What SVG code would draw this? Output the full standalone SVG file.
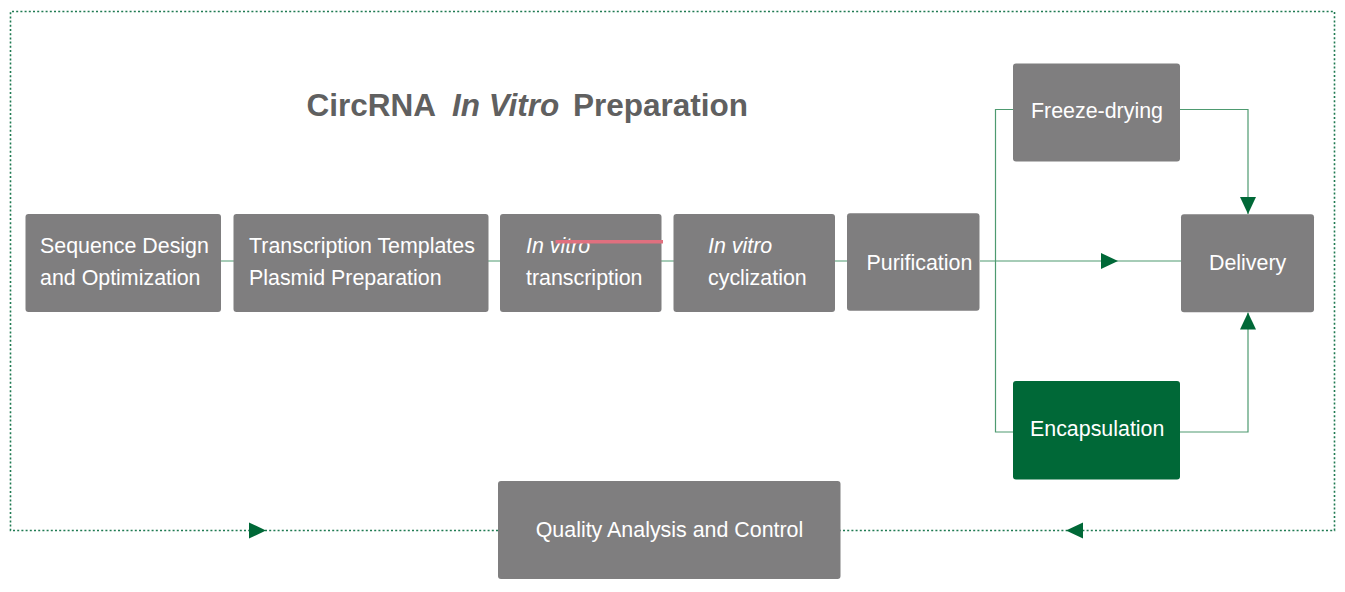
<svg xmlns="http://www.w3.org/2000/svg" width="1345" height="592" viewBox="0 0 1345 592">
<style>
.box{fill:#7f7e7f}
.green{fill:#006837}
.t{font-family:"Liberation Sans",Arial,sans-serif;font-size:21.4px;fill:#ffffff}
.it{font-style:italic}
.c{text-anchor:middle}
.conn{fill:none;stroke:#4e9a70;stroke-width:1.2}
.dot{fill:none;stroke:#1f7a52;stroke-width:1.6;stroke-dasharray:2 2.2}
.title{font-family:"Liberation Sans",Arial,sans-serif;font-size:31.5px;fill:#606060;font-weight:bold}
</style>
<defs>
<marker id="arr" viewBox="0 0 17 16" refX="17" refY="8" markerWidth="17" markerHeight="16" markerUnits="userSpaceOnUse" orient="auto">
<path d="M0,0 L17,8 L0,16 z" fill="#006837"/>
</marker>
</defs>
<rect width="1345" height="592" fill="#ffffff"/>
<g id="connectors">
<path class="dot" d="M498,530.5 L10.5,530.5 L10.5,11.5 L1334.5,11.5 L1334.5,530.5 L840,530.5"/>
<path d="M249,522.5 L266,530.5 L249,538.5 z" fill="#006837"/>
<path d="M1083,522.5 L1066,530.5 L1083,538.5 z" fill="#006837"/>
<line class="conn" x1="221" y1="261" x2="848" y2="261"/>
<line class="conn" x1="980" y1="261" x2="1118" y2="261" marker-end="url(#arr)"/>
<line class="conn" x1="1118" y1="261" x2="1181" y2="261"/>
<path class="conn" d="M1013,109.5 L995.5,109.5 L995.5,432 L1013,432"/>
<path class="conn" d="M1180,109.5 L1248,109.5 L1248,214" marker-end="url(#arr)"/>
<path class="conn" d="M1180,432 L1248,432 L1248,312.5" marker-end="url(#arr)"/>
</g>
<g id="title">
<text class="title" y="116"><tspan x="306.5">CircRNA</tspan><tspan x="452" font-style="italic">In Vitro</tspan><tspan x="573">Preparation</tspan></text>
</g>
<g id="node-sequence">
<rect class="box" x="25.5" y="214" width="195.5" height="98" rx="3"/>
<text class="t" x="40" y="253">Sequence Design</text>
<text class="t" x="40" y="285">and Optimization</text>
</g>
<g id="node-templates">
<rect class="box" x="233.5" y="214" width="255" height="98" rx="3"/>
<text class="t" x="249" y="253">Transcription Templates</text>
<text class="t" x="249" y="285">Plasmid Preparation</text>
</g>
<g id="node-ivt">
<rect class="box" x="500" y="214" width="161.5" height="98" rx="3"/>
<text class="t it" x="526" y="253">In vitro</text>
<text class="t" x="526" y="285">transcription</text>
</g>
<line x1="555.5" y1="241.8" x2="663" y2="241.8" stroke="#e0707f" stroke-width="3.6"/>
<g id="node-ivc">
<rect class="box" x="673.5" y="214" width="161.5" height="98" rx="3"/>
<text class="t it" x="708" y="253">In vitro</text>
<text class="t" x="708" y="285">cyclization</text>
</g>
<g id="node-purification">
<rect class="box" x="847" y="213.3" width="132.5" height="97.5" rx="3"/>
<text class="t" x="866.5" y="270">Purification</text>
</g>
<g id="node-freeze">
<rect class="box" x="1013" y="63.5" width="167" height="98" rx="3"/>
<text class="t" x="1031" y="118">Freeze-drying</text>
</g>
<g id="node-delivery">
<rect class="box" x="1181" y="214.3" width="133" height="98" rx="3"/>
<text class="t" x="1209" y="269.5">Delivery</text>
</g>
<g id="node-encapsulation">
<rect class="green" x="1013" y="381" width="167" height="98.5" rx="3"/>
<text class="t" x="1030" y="436">Encapsulation</text>
</g>
<g id="node-qa">
<rect class="box" x="498" y="481" width="342.5" height="98" rx="3"/>
<text class="t c" x="669.5" y="537">Quality Analysis and Control</text>
</g>
</svg>
